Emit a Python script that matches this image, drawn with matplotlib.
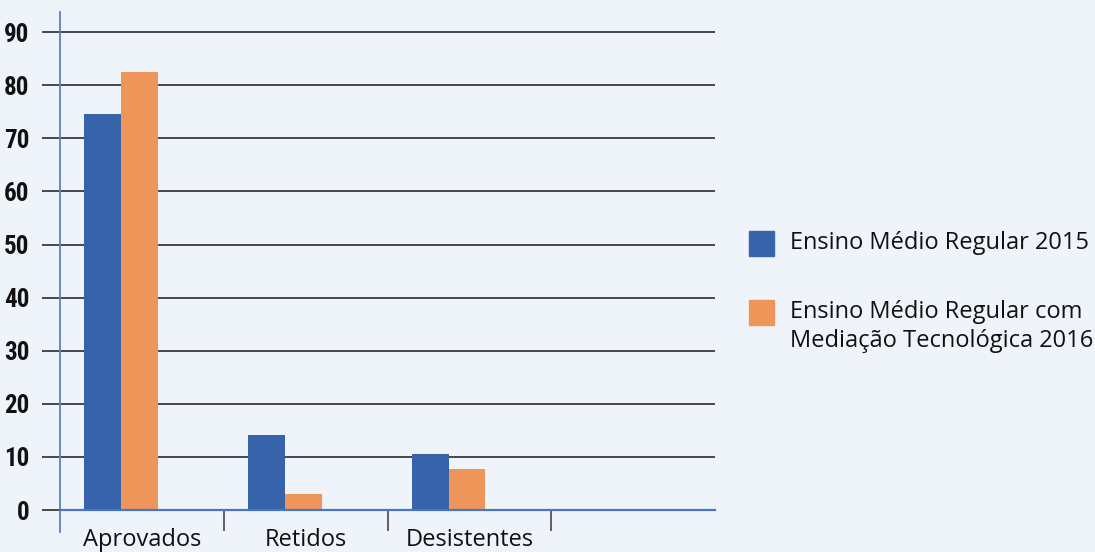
import matplotlib.pyplot as plt
from matplotlib.patches import Rectangle
import numpy as np

categories = ['Aprovados', 'Retidos', 'Desistentes', '']
regular_2015 = [74.6, 14.1, 10.5, 0]
mediacao_2016 = [82.5, 3.0, 7.7, 0]
series_names = ['Ensino Médio Regular 2015', 'Ensino Médio Regular com\nMediação Tecnológica 2016']
colors = ['#3763AA', '#EE9559']
bg = '#EFF4FB'

fig = plt.figure(figsize=(10.95, 5.52), dpi=100, facecolor=bg)
ax = fig.add_axes([60/1095, 1 - 532/552, 655/1095, 520/552])
ax.set_facecolor(bg)

x = np.arange(len(categories))
w = 0.225
ax.bar(x + 0.148, regular_2015, width=w, align='edge', color=colors[0], zorder=3)
ax.bar(x + 0.148 + w, mediacao_2016, width=w, align='edge', color=colors[1], zorder=3)

ax.set_xlim(0, 4)
ax.set_ylim(-4.14, 93.8)

# gridlines
for v in range(10, 100, 10):
    ax.axhline(v, color='#3a3a3a', lw=1.3, zorder=1)

ax.spines['top'].set_visible(False)
ax.spines['right'].set_visible(False)
ax.spines['bottom'].set_position(('data', 0))
ax.spines['bottom'].set_color('#4a74c4')
ax.spines['bottom'].set_linewidth(1.6)
ax.spines['bottom'].set_zorder(4)
ax.spines['left'].set_color('#5b7fc0')
ax.spines['left'].set_linewidth(1.3)

ax.set_yticks(range(0, 100, 10))
ax.tick_params(axis='y', length=13, width=1.3, color='#3a3a3a', pad=9)
for t in ax.get_yticklabels():
    t.set_fontfamily(['Roboto Condensed', 'Roboto', 'DejaVu Sans'])
    t.set_fontweight('bold')
    t.set_fontsize(18)
    t.set_color('#111111')

ax.set_xticks([1, 2, 3])
ax.set_xticklabels([])
ax.tick_params(axis='x', which='major', length=15, width=1.3, color='#555555', direction='out')
ax.set_xticks(x + 0.5, minor=True)
ax.set_xticklabels(categories, minor=True, fontsize=17, color='#111111', fontfamily='Open Sans')
ax.tick_params(axis='x', which='minor', length=0, pad=13)

# legend
sq = 25
ys = [243, 312]
for i in range(2):
    fig.patches.append(Rectangle((749/1095, 1 - (ys[i] + sq/2)/552), sq/1095, sq/552,
                                 transform=fig.transFigure, color=colors[i]))
    for j, line in enumerate(series_names[i].split('\n')):
        fig.text(790/1095, 1 - (ys[i] + 29*j)/552, line, fontsize=17, color='#111111',
                 fontfamily='Open Sans', va='center', transform=fig.transFigure)

plt.savefig('out.png', dpi=100, facecolor=bg)
